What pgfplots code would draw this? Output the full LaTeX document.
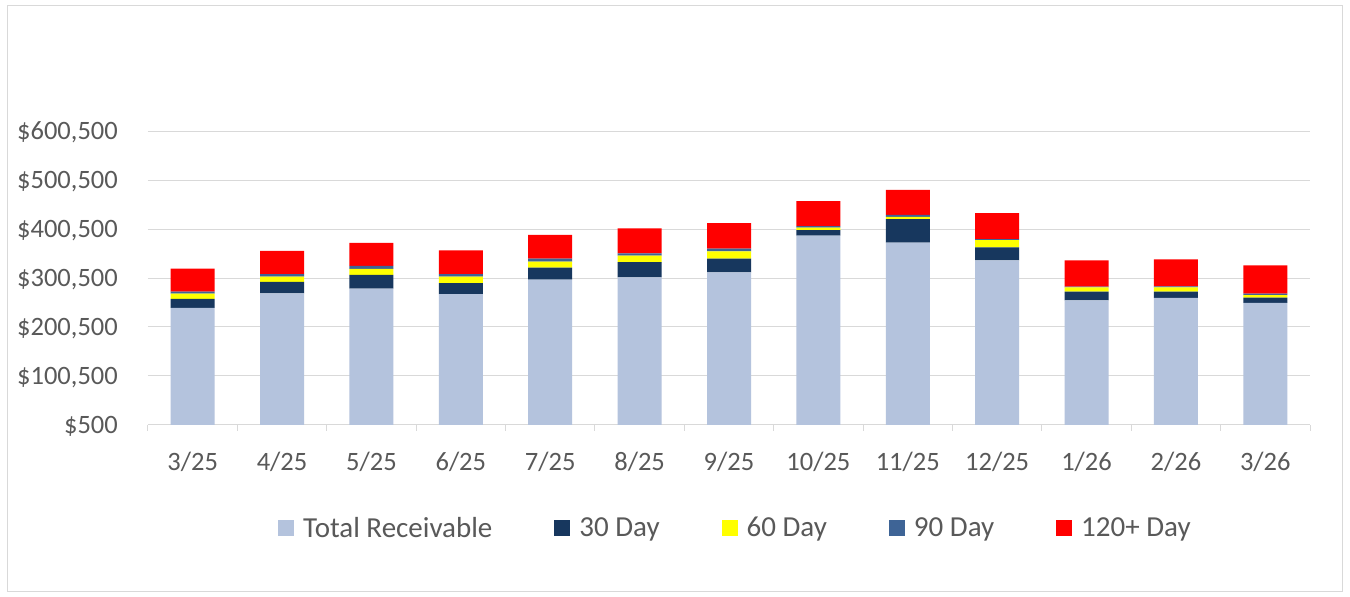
\documentclass[border=0pt]{standalone}
\usepackage{pgfplots}
\pgfplotsset{compat=1.18}
\usepackage{fontspec}
\setmainfont{Carlito}
\definecolor{tr}{HTML}{B4C3DD}
\definecolor{d30}{HTML}{17375E}
\definecolor{d60}{HTML}{FFFF00}
\definecolor{d90}{HTML}{3E6496}
\definecolor{d120}{HTML}{FF0000}
\definecolor{gridc}{HTML}{D9D9D9}
\definecolor{txt}{HTML}{595959}
\begin{document}
\begin{tikzpicture}
\path[use as bounding box] (0,0) rectangle (1350pt,597pt);
\fill[white] (0,0) rectangle (1350pt,597pt);
\draw[gridc, line width=1pt] (7.5pt,5.5pt) rectangle (1342.5pt,591.5pt);
\begin{axis}[
  at={(148pt,172pt)}, anchor=south west,
  scale only axis, width=1162pt, height=294pt,
  ybar stacked, bar width=44pt,
  xmin=-0.5, xmax=12.5, ymin=500, ymax=600500,
  scaled y ticks=false,
  xtick={0,...,12},
  xticklabels={3/25,4/25,5/25,6/25,7/25,8/25,9/25,10/25,11/25,12/25,1/26,2/26,3/26},
  minor xtick={-0.5,0.5,...,12.5},
  ytick={500,100500,200500,300500,400500,500500,600500},
  yticklabels={{\$500},{\$100,500},{\$200,500},{\$300,500},{\$400,500},{\$500,500},{\$600,500}},
  axis x line*=bottom, axis y line*=left,
  y axis line style={draw=none},
  x axis line style={gridc, line width=1pt},
  ymajorgrids, grid style={gridc, line width=1pt},
  major tick length=0pt, minor tick length=6pt, tick align=outside,
  minor tick style={gridc, line width=1pt},
  ticklabel style={font=\fontsize{26.5}{30}\selectfont, text=txt},
  x tick label style={anchor=base, inner sep=0pt, yshift=-46pt},
  y tick label style={anchor=base east, inner sep=0pt, xshift=-30pt, yshift=-8.5pt},
  legend style={at={(0.1119,-0.350)}, anchor=west, draw=none, fill=none, inner sep=0pt,
    legend columns=5, font=\fontsize{29}{32}\selectfont, text=txt,
    /tikz/every odd column/.append style={column sep=9pt},
    /tikz/every even column/.append style={column sep=62pt},
    nodes={inner sep=0pt}},
  legend cell align=left,
  legend image code/.code={\fill[#1] (0pt,-8pt) rectangle (16pt,8pt);},
]
\addplot[fill=tr, draw=none] coordinates {(0,239300) (1,269300) (2,278700) (3,267800) (4,297100) (5,301900) (6,312100) (7,386800) (8,372600) (9,336600) (10,254900) (11,259700) (12,249500)};
\addplot[fill=d30, draw=none] coordinates {(0,18400) (1,23100) (2,28000) (3,22400) (4,24500) (5,31200) (6,27800) (7,11600) (8,47800) (9,26500) (10,17600) (11,12900) (12,10800)};
\addplot[fill=d60, draw=none] coordinates {(0,10800) (1,10900) (2,12200) (3,12900) (4,12200) (5,12900) (6,15100) (7,4700) (8,4700) (9,14900) (10,9000) (11,9000) (12,5500)};
\addplot[fill=d90, draw=none] coordinates {(0,4100) (1,4900) (2,6100) (3,5500) (4,6100) (5,4800) (6,5300) (7,3500) (8,4100) (9,2000) (10,1200) (11,2000) (12,2700)};
\addplot[fill=d120, draw=none] coordinates {(0,46900) (1,47600) (2,47000) (3,48400) (4,48400) (5,51000) (6,52400) (7,51000) (8,51000) (9,53100) (10,53900) (11,55100) (12,58000)};
\legend{Total Receivable,30 Day,60 Day,90 Day,120+ Day}
\end{axis}
\end{tikzpicture}
\end{document}
